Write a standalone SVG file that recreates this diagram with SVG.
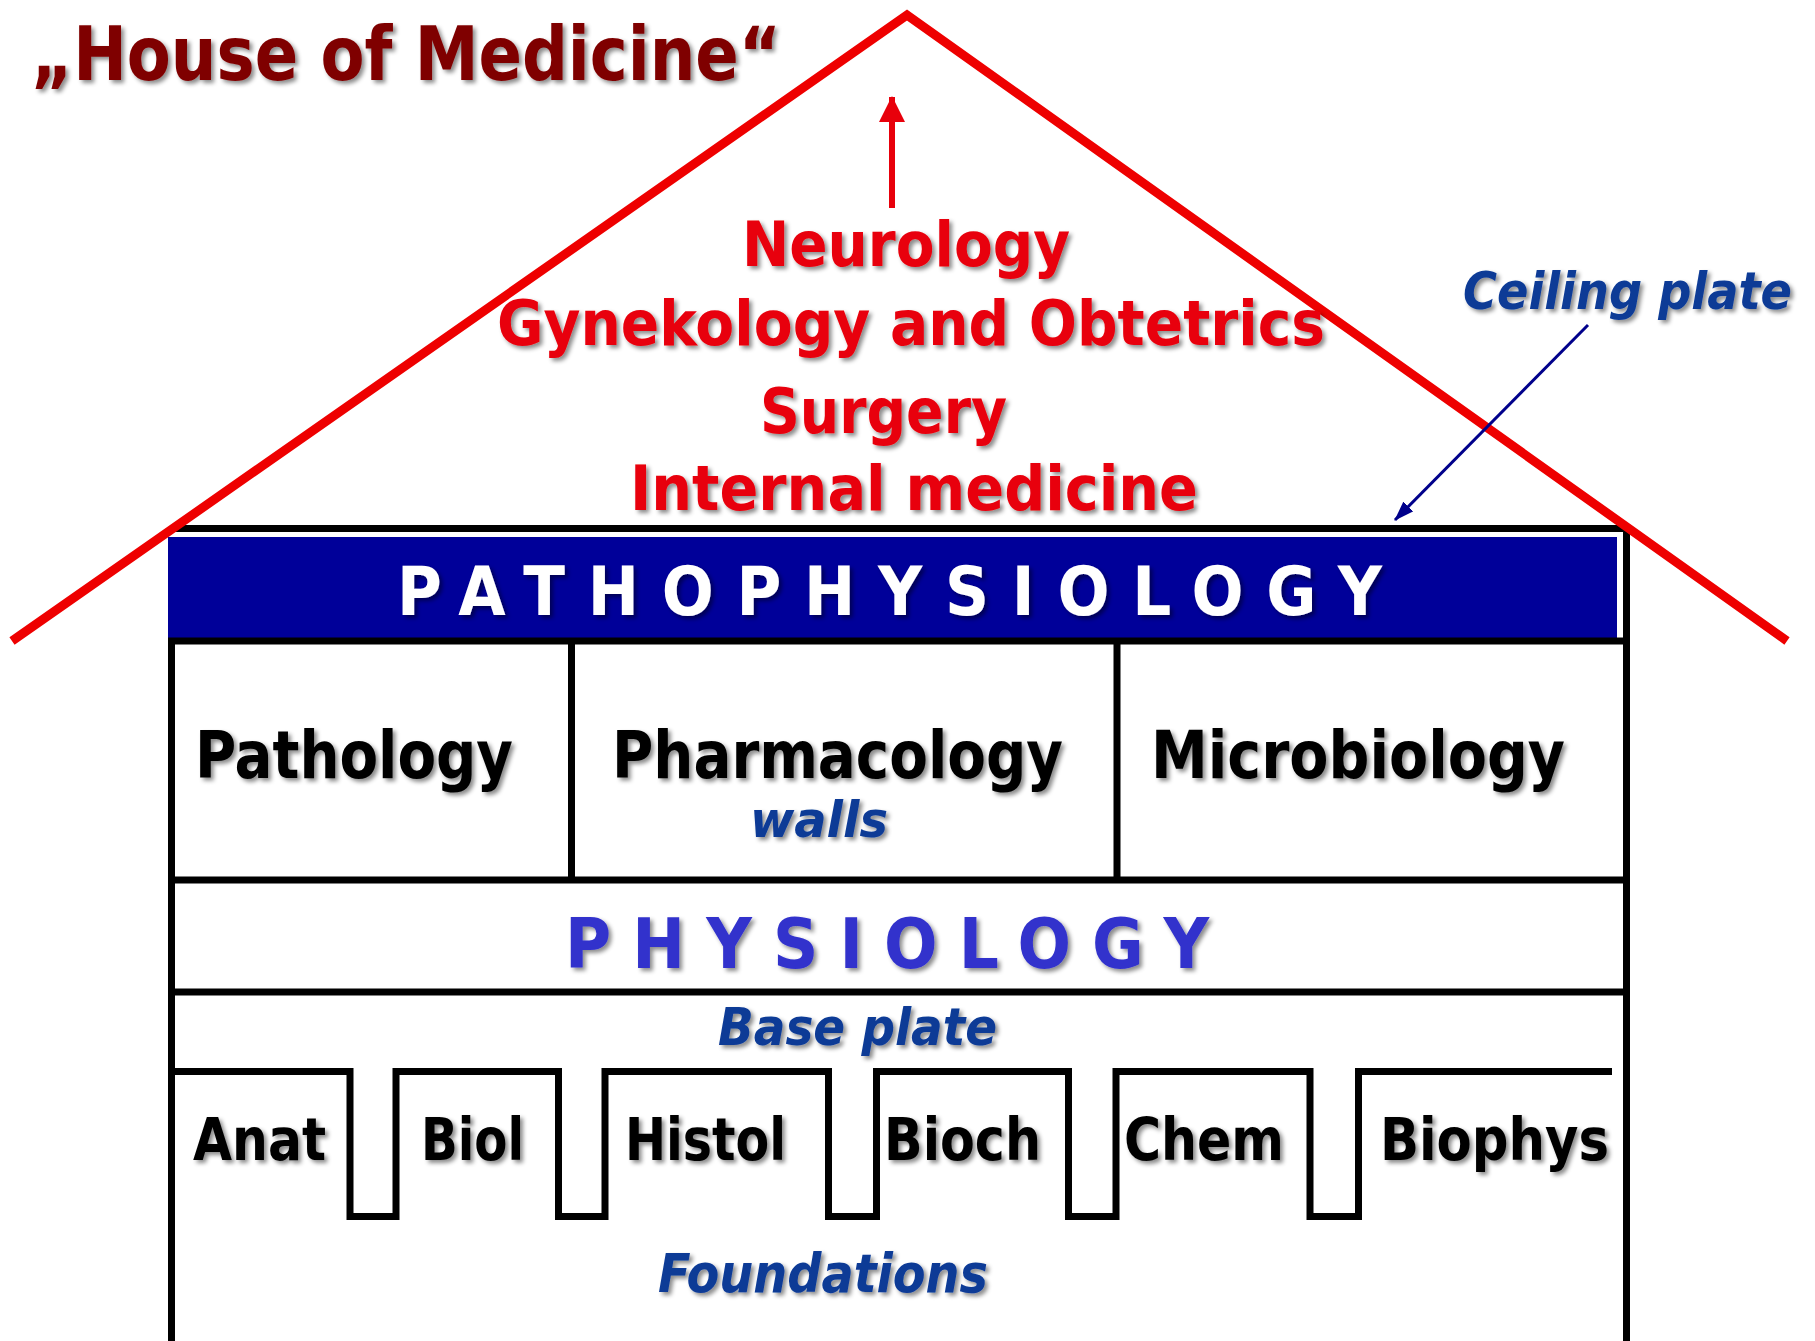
<svg xmlns="http://www.w3.org/2000/svg" width="1815" height="1341" viewBox="0 0 1815 1341">
<style>
  text { font-family: "DejaVu Sans Condensed", "DejaVu Sans", sans-serif; font-weight: bold; font-stretch: condensed; }
  .title { font-size: 75px; fill: #7f0000; }
  .red { font-size: 63px; fill: #e8000b; }
  .blk { font-size: 66px; fill: #000; }
  .small { font-size: 58px; fill: #000; }
  .ital { font-style: italic; fill: #0b3a96; }
  .line { stroke: #000; stroke-width: 7; fill: none; }
</style>
<defs>
  <filter id="sh" x="-5%" y="-30%" width="115%" height="170%">
    <feDropShadow dx="3" dy="3" stdDeviation="2" flood-color="#000" flood-opacity="0.45"/>
  </filter>
  <marker id="redHead" markerUnits="userSpaceOnUse" markerWidth="26" markerHeight="26" viewBox="0 0 26 26" refX="25" refY="13" orient="auto">
    <path d="M0,0 L26,13 L0,26 Z" fill="#e8000b"/>
  </marker>
  <marker id="blueHead" markerUnits="userSpaceOnUse" markerWidth="20" markerHeight="14" viewBox="0 0 20 14" refX="19" refY="7" orient="auto">
    <path d="M0,0 L20,7 L0,14 Z" fill="#00008b"/>
  </marker>
</defs>
<rect width="1815" height="1341" fill="#fff"/>

<g id="title">
  <text class="title" x="31" y="80" textLength="750" lengthAdjust="spacingAndGlyphs" filter="url(#sh)">„House of Medicine“</text>
</g>

<g id="house-frame">
  <rect x="168" y="537" width="1449" height="101" fill="#000099"/>
  <line class="line" x1="175" y1="528.5" x2="1630" y2="528.5"/>
  <line class="line" x1="171.5" y1="638" x2="171.5" y2="1341"/>
  <line class="line" x1="1626.5" y1="525" x2="1626.5" y2="1341"/>
  <line class="line" x1="168" y1="641" x2="1630" y2="641" stroke-width="6"/>
  <line class="line" x1="168" y1="880" x2="1630" y2="880"/>
  <line class="line" x1="168" y1="992" x2="1630" y2="992"/>
  <line class="line" x1="571.5" y1="641" x2="571.5" y2="880"/>
  <line class="line" x1="1117" y1="641" x2="1117" y2="880"/>
  <path class="line" d="M171.5 1071.5 H350 V1216.5 H396 V1071.5 H558.5 V1216.5 H605 V1071.5 H828.5 V1216.5 H876.5 V1071.5 H1068.5 V1216.5 H1116 V1071.5 H1310 V1216.5 H1358.5 V1071.5 H1612"/>
</g>

<g id="roof">
  <polyline points="12,641 907,15 1787,641" fill="none" stroke="#ee0000" stroke-width="9" stroke-linejoin="miter"/>
</g>

<g id="specialties" filter="url(#sh)">
  <text class="red" x="742" y="266" textLength="328" lengthAdjust="spacingAndGlyphs">Neurology</text>
  <text class="red" x="497" y="345" textLength="828" lengthAdjust="spacingAndGlyphs">Gynekology and Obtetrics</text>
  <text class="red" x="760" y="433" textLength="247" lengthAdjust="spacingAndGlyphs">Surgery</text>
  <text class="red" x="630" y="510" textLength="568" lengthAdjust="spacingAndGlyphs">Internal medicine</text>
</g>

<g id="ceiling-label">
  <text class="ital" x="1463" y="309" font-size="52" textLength="329" lengthAdjust="spacingAndGlyphs" filter="url(#sh)">Ceiling plate</text>
</g>

<g id="pathophysiology">
  <text x="397" y="615" font-size="68" fill="#fff" textLength="985" lengthAdjust="spacing" filter="url(#sh)">PATHOPHYSIOLOGY</text>
</g>

<g id="walls" filter="url(#sh)">
  <g id="pathology"><text class="blk" x="195" y="778" textLength="318" lengthAdjust="spacingAndGlyphs">Pathology</text></g>
  <g id="pharmacology"><text class="blk" x="612" y="778" textLength="451" lengthAdjust="spacingAndGlyphs">Pharmacology</text></g>
  <g id="microbiology"><text class="blk" x="1151" y="778" textLength="414" lengthAdjust="spacingAndGlyphs">Microbiology</text></g>
  <text class="ital" x="750" y="837" font-size="50" textLength="138" lengthAdjust="spacingAndGlyphs">walls</text>
</g>

<g id="physiology">
  <text x="565" y="968" font-size="70" fill="#3333cc" textLength="644" lengthAdjust="spacing" filter="url(#sh)">PHYSIOLOGY</text>
</g>

<g id="base-plate">
  <text class="ital" x="718" y="1045" font-size="52" textLength="279" lengthAdjust="spacingAndGlyphs" filter="url(#sh)">Base plate</text>
</g>

<g id="foundations" filter="url(#sh)">
  <g id="anat"><text class="small" x="193" y="1160" textLength="133" lengthAdjust="spacingAndGlyphs">Anat</text></g>
  <g id="biol"><text class="small" x="421" y="1160" textLength="103" lengthAdjust="spacingAndGlyphs">Biol</text></g>
  <g id="histol"><text class="small" x="625" y="1160" textLength="161" lengthAdjust="spacingAndGlyphs">Histol</text></g>
  <g id="bioch"><text class="small" x="884" y="1160" textLength="157" lengthAdjust="spacingAndGlyphs">Bioch</text></g>
  <g id="chem"><text class="small" x="1124" y="1160" textLength="160" lengthAdjust="spacingAndGlyphs">Chem</text></g>
  <g id="biophys"><text class="small" x="1380" y="1160" textLength="229" lengthAdjust="spacingAndGlyphs">Biophys</text></g>
  <text class="ital" x="658" y="1292" font-size="53" textLength="330" lengthAdjust="spacingAndGlyphs">Foundations</text>
</g>

<g id="connectors">
  <line x1="892" y1="208" x2="892" y2="97" stroke="#e8000b" stroke-width="6" marker-end="url(#redHead)"/>
  <line x1="1588" y1="325" x2="1395" y2="520" stroke="#00008b" stroke-width="3" marker-end="url(#blueHead)"/>
</g>
</svg>
